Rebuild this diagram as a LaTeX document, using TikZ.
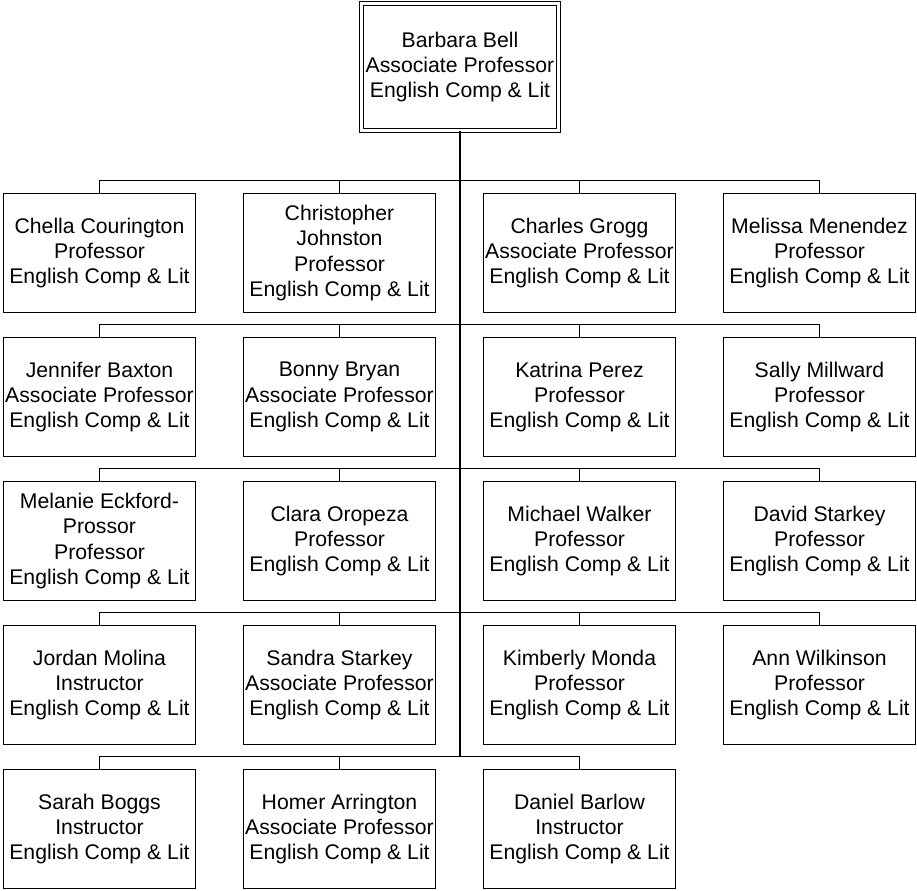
\documentclass[tikz,border=0pt]{standalone}
\usepackage{fontspec}
\setmainfont{Liberation Sans}
\usepackage{tikz}
\usetikzlibrary{positioning}
\tikzstyle{link} = [line width=1pt, color=black]

\begin{document}
\begin{tikzpicture}[
    x=0.75pt, y=-0.75pt,
    every node/.style={font=\fontsize{15.9}{19}\selectfont},
    box/.style={rectangle, draw=black, line width=1pt, fill=white, minimum width=144pt, minimum height=89.5pt, inner sep=0pt, align=center},
    headbox/.style={box, double, double distance=2.2pt, minimum width=147.5pt, minimum height=95.3pt}
]
\useasboundingbox (0,0) rectangle (917,890);

% Chair
\node[headbox] (bell) at (460,67) {Barbara Bell\\Associate Professor\\English Comp \& Lit};

% Row 1
\node[box] (chella) at (99.5,253) {Chella Courington\\Professor\\English Comp \& Lit};
\node[box] (christopher) at (339.5,253) {Christopher\\Johnston\\Professor\\English Comp \& Lit};
\node[box] (charles) at (579.5,253) {Charles Grogg\\Associate Professor\\English Comp \& Lit};
\node[box] (melissa) at (819.5,253) {Melissa Menendez\\Professor\\English Comp \& Lit};

% Row 2
\node[box] (jennifer) at (99.5,397) {Jennifer Baxton\\Associate Professor\\English Comp \& Lit};
\node[box] (bonny) at (339.5,397) {Bonny Bryan\\Associate Professor\\English Comp \& Lit};
\node[box] (katrina) at (579.5,397) {Katrina Perez\\Professor\\English Comp \& Lit};
\node[box] (sally) at (819.5,397) {Sally Millward\\Professor\\English Comp \& Lit};

% Row 3
\node[box] (melanie) at (99.5,541) {Melanie Eckford-\\Prossor\\Professor\\English Comp \& Lit};
\node[box] (clara) at (339.5,541) {Clara Oropeza\\Professor\\English Comp \& Lit};
\node[box] (michael) at (579.5,541) {Michael Walker\\Professor\\English Comp \& Lit};
\node[box] (david) at (819.5,541) {David Starkey\\Professor\\English Comp \& Lit};

% Row 4
\node[box] (jordan) at (99.5,685) {Jordan Molina\\Instructor\\English Comp \& Lit};
\node[box] (sandra) at (339.5,685) {Sandra Starkey\\Associate Professor\\English Comp \& Lit};
\node[box] (kimberly) at (579.5,685) {Kimberly Monda\\Professor\\English Comp \& Lit};
\node[box] (ann) at (819.5,685) {Ann Wilkinson\\Professor\\English Comp \& Lit};

% Row 5
\node[box] (sarah) at (99.5,829) {Sarah Boggs\\Instructor\\English Comp \& Lit};
\node[box] (homer) at (339.5,829) {Homer Arrington\\Associate Professor\\English Comp \& Lit};
\node[box] (daniel) at (579.5,829) {Daniel Barlow\\Instructor\\English Comp \& Lit};

% Buses
\draw[link] (chella.north) -- ++(0,-12) -| (melissa.north);
\draw[link] (christopher.north) -- ++(0,-12);
\draw[link] (charles.north) -- ++(0,-12);
\draw[link] (jennifer.north) -- ++(0,-12) -| (sally.north);
\draw[link] (bonny.north) -- ++(0,-12);
\draw[link] (katrina.north) -- ++(0,-12);
\draw[link] (melanie.north) -- ++(0,-12) -| (david.north);
\draw[link] (clara.north) -- ++(0,-12);
\draw[link] (michael.north) -- ++(0,-12);
\draw[link] (jordan.north) -- ++(0,-12) -| (ann.north);
\draw[link] (sandra.north) -- ++(0,-12);
\draw[link] (kimberly.north) -- ++(0,-12);
\draw[link] (sarah.north) -- ++(0,-12) -| (daniel.north);
\draw[link] (homer.north) -- ++(0,-12);

% Trunk
\coordinate (bus5) at ([yshift=9pt]sarah.north);
\draw[link] (bell.south) -- (bell.south |- bus5);

\end{tikzpicture}
\end{document}
